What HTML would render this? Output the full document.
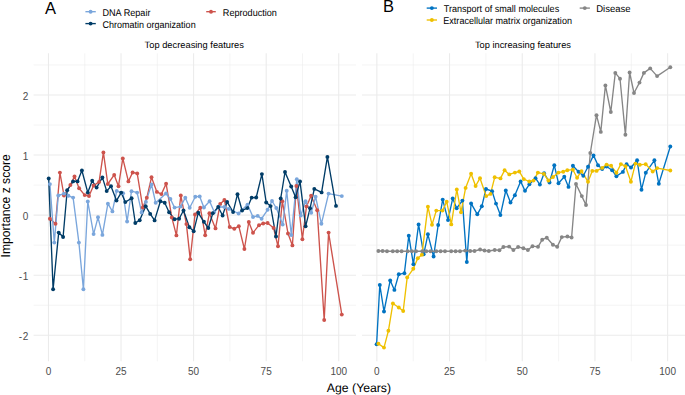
<!DOCTYPE html>
<html><head><meta charset="utf-8"><style>
html,body{margin:0;padding:0;background:#fff;}
body{width:685px;height:395px;overflow:hidden;}
svg{display:block;font-family:"Liberation Sans",sans-serif;}
</style></head><body>
<svg width="685" height="395" viewBox="0 0 685 395">
<line x1="33.6" x2="356.0" y1="305.19" y2="305.19" stroke="#EBEBEB" stroke-width="0.55"/>
<line x1="33.6" x2="356.0" y1="245.13" y2="245.13" stroke="#EBEBEB" stroke-width="0.55"/>
<line x1="33.6" x2="356.0" y1="185.07" y2="185.07" stroke="#EBEBEB" stroke-width="0.55"/>
<line x1="33.6" x2="356.0" y1="125.01" y2="125.01" stroke="#EBEBEB" stroke-width="0.55"/>
<line x1="33.6" x2="356.0" y1="64.95" y2="64.95" stroke="#EBEBEB" stroke-width="0.55"/>
<line x1="84.74" x2="84.74" y1="53.3" y2="361.3" stroke="#EBEBEB" stroke-width="0.55"/>
<line x1="157.31" x2="157.31" y1="53.3" y2="361.3" stroke="#EBEBEB" stroke-width="0.55"/>
<line x1="229.89" x2="229.89" y1="53.3" y2="361.3" stroke="#EBEBEB" stroke-width="0.55"/>
<line x1="302.46" x2="302.46" y1="53.3" y2="361.3" stroke="#EBEBEB" stroke-width="0.55"/>
<line x1="33.6" x2="356.0" y1="335.22" y2="335.22" stroke="#EBEBEB" stroke-width="1.07"/>
<line x1="33.6" x2="356.0" y1="275.16" y2="275.16" stroke="#EBEBEB" stroke-width="1.07"/>
<line x1="33.6" x2="356.0" y1="215.10" y2="215.10" stroke="#EBEBEB" stroke-width="1.07"/>
<line x1="33.6" x2="356.0" y1="155.04" y2="155.04" stroke="#EBEBEB" stroke-width="1.07"/>
<line x1="33.6" x2="356.0" y1="94.98" y2="94.98" stroke="#EBEBEB" stroke-width="1.07"/>
<line x1="48.45" x2="48.45" y1="53.3" y2="361.3" stroke="#EBEBEB" stroke-width="1.07"/>
<line x1="121.03" x2="121.03" y1="53.3" y2="361.3" stroke="#EBEBEB" stroke-width="1.07"/>
<line x1="193.60" x2="193.60" y1="53.3" y2="361.3" stroke="#EBEBEB" stroke-width="1.07"/>
<line x1="266.18" x2="266.18" y1="53.3" y2="361.3" stroke="#EBEBEB" stroke-width="1.07"/>
<line x1="338.75" x2="338.75" y1="53.3" y2="361.3" stroke="#EBEBEB" stroke-width="1.07"/>
<line x1="362.0" x2="685.0" y1="305.19" y2="305.19" stroke="#EBEBEB" stroke-width="0.55"/>
<line x1="362.0" x2="685.0" y1="245.13" y2="245.13" stroke="#EBEBEB" stroke-width="0.55"/>
<line x1="362.0" x2="685.0" y1="185.07" y2="185.07" stroke="#EBEBEB" stroke-width="0.55"/>
<line x1="362.0" x2="685.0" y1="125.01" y2="125.01" stroke="#EBEBEB" stroke-width="0.55"/>
<line x1="362.0" x2="685.0" y1="64.95" y2="64.95" stroke="#EBEBEB" stroke-width="0.55"/>
<line x1="413.20" x2="413.20" y1="53.3" y2="361.3" stroke="#EBEBEB" stroke-width="0.55"/>
<line x1="485.90" x2="485.90" y1="53.3" y2="361.3" stroke="#EBEBEB" stroke-width="0.55"/>
<line x1="558.60" x2="558.60" y1="53.3" y2="361.3" stroke="#EBEBEB" stroke-width="0.55"/>
<line x1="631.30" x2="631.30" y1="53.3" y2="361.3" stroke="#EBEBEB" stroke-width="0.55"/>
<line x1="362.0" x2="685.0" y1="335.22" y2="335.22" stroke="#EBEBEB" stroke-width="1.07"/>
<line x1="362.0" x2="685.0" y1="275.16" y2="275.16" stroke="#EBEBEB" stroke-width="1.07"/>
<line x1="362.0" x2="685.0" y1="215.10" y2="215.10" stroke="#EBEBEB" stroke-width="1.07"/>
<line x1="362.0" x2="685.0" y1="155.04" y2="155.04" stroke="#EBEBEB" stroke-width="1.07"/>
<line x1="362.0" x2="685.0" y1="94.98" y2="94.98" stroke="#EBEBEB" stroke-width="1.07"/>
<line x1="376.85" x2="376.85" y1="53.3" y2="361.3" stroke="#EBEBEB" stroke-width="1.07"/>
<line x1="449.55" x2="449.55" y1="53.3" y2="361.3" stroke="#EBEBEB" stroke-width="1.07"/>
<line x1="522.25" x2="522.25" y1="53.3" y2="361.3" stroke="#EBEBEB" stroke-width="1.07"/>
<line x1="594.95" x2="594.95" y1="53.3" y2="361.3" stroke="#EBEBEB" stroke-width="1.07"/>
<line x1="667.65" x2="667.65" y1="53.3" y2="361.3" stroke="#EBEBEB" stroke-width="1.07"/>
<path d="M49.9,218.8 L55.5,223.8 L59.9,172.6 L64.0,195.5 L70.4,185.0 L74.5,176.4 L79.1,188.3 L84.7,195.1 L89.0,196.0 L93.6,185.5 L99.1,181.9 L103.4,152.4 L107.8,184.0 L114.2,174.9 L118.5,186.2 L122.8,158.4 L128.4,181.4 L132.6,172.5 L137.2,173.4 L142.8,207.5 L146.8,197.8 L151.5,177.3 L156.9,191.9 L161.4,194.1 L166.1,183.7 L171.8,217.4 L176.4,235.4 L180.8,195.5 L186.4,224.1 L190.2,259.2 L195.0,214.5 L200.3,207.7 L205.2,235.2 L209.4,213.3 L215.5,228.4 L220.2,204.0 L224.4,200.0 L229.7,227.0 L234.3,228.8 L238.8,226.2 L244.4,249.0 L248.8,222.0 L253.0,232.8 L259.0,225.2 L263.2,223.5 L267.6,223.0 L273.6,228.0 L278.0,246.3 L282.3,201.2 L288.0,233.5 L292.4,245.4 L296.4,186.0 L302.4,239.2 L306.5,206.4 L311.1,195.8 L317.2,210.2 L324.2,320.0 L328.6,232.6 L341.8,314.6" fill="none" stroke="#CD534C" stroke-width="1.35" stroke-linejoin="round"/>
<path d="M49.9,184.1 L54.3,242.6 L58.3,195.5 L64.0,193.6 L68.4,195.8 L73.1,197.6 L78.9,242.6 L83.4,289.3 L87.8,201.5 L93.6,234.1 L98.0,217.3 L102.4,234.9 L107.9,203.7 L112.4,211.4 L116.7,190.9 L123.1,193.3 L127.1,221.5 L131.5,191.2 L137.1,192.6 L141.6,212.4 L145.9,201.9 L151.5,184.5 L155.7,202.8 L166.0,193.5 L170.4,199.0 L174.6,207.6 L180.6,206.6 L185.3,197.7 L189.7,207.7 L195.3,196.7 L199.7,196.4 L203.9,207.5 L209.6,201.3 L214.3,212.1 L219.0,206.8 L224.4,207.0 L228.8,208.9 L238.6,213.5 L247.5,204.6 L253.0,217.0 L257.7,215.9 L261.6,218.7 L267.6,209.8 L272.0,201.0 L276.3,208.0 L282.7,224.6 L286.7,190.8 L291.3,235.0 L296.8,179.3 L300.8,215.6 L305.5,201.3 L311.2,212.7 L315.6,196.7 L321.4,223.8 L328.6,193.6 L341.8,196.1" fill="none" stroke="#7AA6DC" stroke-width="1.35" stroke-linejoin="round"/>
<path d="M48.7,178.5 L53.1,289.3 L58.7,232.6 L63.1,237.0 L67.2,190.3 L73.1,181.4 L77.5,181.4 L81.9,170.5 L87.8,192.6 L92.2,180.8 L96.6,187.6 L102.4,177.4 L106.7,191.1 L111.0,186.2 L116.5,200.6 L121.2,192.6 L125.3,202.1 L131.6,198.2 L135.3,223.0 L139.7,220.2 L145.7,206.2 L150.2,213.9 L154.6,220.4 L160.4,201.3 L164.7,202.7 L169.1,212.3 L174.6,219.2 L179.1,218.7 L183.5,210.5 L189.4,227.3 L193.7,231.2 L198.3,212.8 L203.9,221.8 L208.3,228.0 L212.8,213.3 L218.2,207.0 L222.6,215.5 L227.1,201.9 L233.1,212.1 L237.5,194.2 L242.1,210.5 L247.3,208.1 L251.7,197.6 L256.2,197.5 L261.9,174.1 L266.2,202.5 L270.6,206.1 L276.0,236.5 L280.7,198.5 L285.0,172.0 L291.2,186.5 L295.6,197.2 L300.0,181.4 L305.6,226.3 L310.1,208.2 L314.3,188.9 L321.6,192.4 L327.4,156.9 L336.0,205.9" fill="none" stroke="#003C67" stroke-width="1.35" stroke-linejoin="round"/>
<g fill="#CD534C"><circle cx="49.9" cy="218.8" r="1.95"/><circle cx="55.5" cy="223.8" r="1.95"/><circle cx="59.9" cy="172.6" r="1.95"/><circle cx="64.0" cy="195.5" r="1.95"/><circle cx="70.4" cy="185.0" r="1.95"/><circle cx="74.5" cy="176.4" r="1.95"/><circle cx="79.1" cy="188.3" r="1.95"/><circle cx="84.7" cy="195.1" r="1.95"/><circle cx="89.0" cy="196.0" r="1.95"/><circle cx="93.6" cy="185.5" r="1.95"/><circle cx="99.1" cy="181.9" r="1.95"/><circle cx="103.4" cy="152.4" r="1.95"/><circle cx="107.8" cy="184.0" r="1.95"/><circle cx="114.2" cy="174.9" r="1.95"/><circle cx="118.5" cy="186.2" r="1.95"/><circle cx="122.8" cy="158.4" r="1.95"/><circle cx="128.4" cy="181.4" r="1.95"/><circle cx="132.6" cy="172.5" r="1.95"/><circle cx="137.2" cy="173.4" r="1.95"/><circle cx="142.8" cy="207.5" r="1.95"/><circle cx="146.8" cy="197.8" r="1.95"/><circle cx="151.5" cy="177.3" r="1.95"/><circle cx="156.9" cy="191.9" r="1.95"/><circle cx="161.4" cy="194.1" r="1.95"/><circle cx="166.1" cy="183.7" r="1.95"/><circle cx="171.8" cy="217.4" r="1.95"/><circle cx="176.4" cy="235.4" r="1.95"/><circle cx="180.8" cy="195.5" r="1.95"/><circle cx="186.4" cy="224.1" r="1.95"/><circle cx="190.2" cy="259.2" r="1.95"/><circle cx="195.0" cy="214.5" r="1.95"/><circle cx="200.3" cy="207.7" r="1.95"/><circle cx="205.2" cy="235.2" r="1.95"/><circle cx="209.4" cy="213.3" r="1.95"/><circle cx="215.5" cy="228.4" r="1.95"/><circle cx="220.2" cy="204.0" r="1.95"/><circle cx="224.4" cy="200.0" r="1.95"/><circle cx="229.7" cy="227.0" r="1.95"/><circle cx="234.3" cy="228.8" r="1.95"/><circle cx="238.8" cy="226.2" r="1.95"/><circle cx="244.4" cy="249.0" r="1.95"/><circle cx="248.8" cy="222.0" r="1.95"/><circle cx="253.0" cy="232.8" r="1.95"/><circle cx="259.0" cy="225.2" r="1.95"/><circle cx="263.2" cy="223.5" r="1.95"/><circle cx="267.6" cy="223.0" r="1.95"/><circle cx="273.6" cy="228.0" r="1.95"/><circle cx="278.0" cy="246.3" r="1.95"/><circle cx="282.3" cy="201.2" r="1.95"/><circle cx="288.0" cy="233.5" r="1.95"/><circle cx="292.4" cy="245.4" r="1.95"/><circle cx="296.4" cy="186.0" r="1.95"/><circle cx="302.4" cy="239.2" r="1.95"/><circle cx="306.5" cy="206.4" r="1.95"/><circle cx="311.1" cy="195.8" r="1.95"/><circle cx="317.2" cy="210.2" r="1.95"/><circle cx="324.2" cy="320.0" r="1.95"/><circle cx="328.6" cy="232.6" r="1.95"/><circle cx="341.8" cy="314.6" r="1.95"/></g>
<g fill="#7AA6DC"><circle cx="49.9" cy="184.1" r="1.95"/><circle cx="54.3" cy="242.6" r="1.95"/><circle cx="58.3" cy="195.5" r="1.95"/><circle cx="64.0" cy="193.6" r="1.95"/><circle cx="68.4" cy="195.8" r="1.95"/><circle cx="73.1" cy="197.6" r="1.95"/><circle cx="78.9" cy="242.6" r="1.95"/><circle cx="83.4" cy="289.3" r="1.95"/><circle cx="87.8" cy="201.5" r="1.95"/><circle cx="93.6" cy="234.1" r="1.95"/><circle cx="98.0" cy="217.3" r="1.95"/><circle cx="102.4" cy="234.9" r="1.95"/><circle cx="107.9" cy="203.7" r="1.95"/><circle cx="112.4" cy="211.4" r="1.95"/><circle cx="116.7" cy="190.9" r="1.95"/><circle cx="123.1" cy="193.3" r="1.95"/><circle cx="127.1" cy="221.5" r="1.95"/><circle cx="131.5" cy="191.2" r="1.95"/><circle cx="137.1" cy="192.6" r="1.95"/><circle cx="141.6" cy="212.4" r="1.95"/><circle cx="145.9" cy="201.9" r="1.95"/><circle cx="151.5" cy="184.5" r="1.95"/><circle cx="155.7" cy="202.8" r="1.95"/><circle cx="166.0" cy="193.5" r="1.95"/><circle cx="170.4" cy="199.0" r="1.95"/><circle cx="174.6" cy="207.6" r="1.95"/><circle cx="180.6" cy="206.6" r="1.95"/><circle cx="185.3" cy="197.7" r="1.95"/><circle cx="189.7" cy="207.7" r="1.95"/><circle cx="195.3" cy="196.7" r="1.95"/><circle cx="199.7" cy="196.4" r="1.95"/><circle cx="203.9" cy="207.5" r="1.95"/><circle cx="209.6" cy="201.3" r="1.95"/><circle cx="214.3" cy="212.1" r="1.95"/><circle cx="219.0" cy="206.8" r="1.95"/><circle cx="224.4" cy="207.0" r="1.95"/><circle cx="228.8" cy="208.9" r="1.95"/><circle cx="238.6" cy="213.5" r="1.95"/><circle cx="247.5" cy="204.6" r="1.95"/><circle cx="253.0" cy="217.0" r="1.95"/><circle cx="257.7" cy="215.9" r="1.95"/><circle cx="261.6" cy="218.7" r="1.95"/><circle cx="267.6" cy="209.8" r="1.95"/><circle cx="272.0" cy="201.0" r="1.95"/><circle cx="276.3" cy="208.0" r="1.95"/><circle cx="282.7" cy="224.6" r="1.95"/><circle cx="286.7" cy="190.8" r="1.95"/><circle cx="291.3" cy="235.0" r="1.95"/><circle cx="296.8" cy="179.3" r="1.95"/><circle cx="300.8" cy="215.6" r="1.95"/><circle cx="305.5" cy="201.3" r="1.95"/><circle cx="311.2" cy="212.7" r="1.95"/><circle cx="315.6" cy="196.7" r="1.95"/><circle cx="321.4" cy="223.8" r="1.95"/><circle cx="328.6" cy="193.6" r="1.95"/><circle cx="341.8" cy="196.1" r="1.95"/></g>
<g fill="#003C67"><circle cx="48.7" cy="178.5" r="1.95"/><circle cx="53.1" cy="289.3" r="1.95"/><circle cx="58.7" cy="232.6" r="1.95"/><circle cx="63.1" cy="237.0" r="1.95"/><circle cx="67.2" cy="190.3" r="1.95"/><circle cx="73.1" cy="181.4" r="1.95"/><circle cx="77.5" cy="181.4" r="1.95"/><circle cx="81.9" cy="170.5" r="1.95"/><circle cx="87.8" cy="192.6" r="1.95"/><circle cx="92.2" cy="180.8" r="1.95"/><circle cx="96.6" cy="187.6" r="1.95"/><circle cx="102.4" cy="177.4" r="1.95"/><circle cx="106.7" cy="191.1" r="1.95"/><circle cx="111.0" cy="186.2" r="1.95"/><circle cx="116.5" cy="200.6" r="1.95"/><circle cx="121.2" cy="192.6" r="1.95"/><circle cx="125.3" cy="202.1" r="1.95"/><circle cx="131.6" cy="198.2" r="1.95"/><circle cx="135.3" cy="223.0" r="1.95"/><circle cx="139.7" cy="220.2" r="1.95"/><circle cx="145.7" cy="206.2" r="1.95"/><circle cx="150.2" cy="213.9" r="1.95"/><circle cx="154.6" cy="220.4" r="1.95"/><circle cx="160.4" cy="201.3" r="1.95"/><circle cx="164.7" cy="202.7" r="1.95"/><circle cx="169.1" cy="212.3" r="1.95"/><circle cx="174.6" cy="219.2" r="1.95"/><circle cx="179.1" cy="218.7" r="1.95"/><circle cx="183.5" cy="210.5" r="1.95"/><circle cx="189.4" cy="227.3" r="1.95"/><circle cx="193.7" cy="231.2" r="1.95"/><circle cx="198.3" cy="212.8" r="1.95"/><circle cx="203.9" cy="221.8" r="1.95"/><circle cx="208.3" cy="228.0" r="1.95"/><circle cx="212.8" cy="213.3" r="1.95"/><circle cx="218.2" cy="207.0" r="1.95"/><circle cx="222.6" cy="215.5" r="1.95"/><circle cx="227.1" cy="201.9" r="1.95"/><circle cx="233.1" cy="212.1" r="1.95"/><circle cx="237.5" cy="194.2" r="1.95"/><circle cx="242.1" cy="210.5" r="1.95"/><circle cx="247.3" cy="208.1" r="1.95"/><circle cx="251.7" cy="197.6" r="1.95"/><circle cx="256.2" cy="197.5" r="1.95"/><circle cx="261.9" cy="174.1" r="1.95"/><circle cx="266.2" cy="202.5" r="1.95"/><circle cx="270.6" cy="206.1" r="1.95"/><circle cx="276.0" cy="236.5" r="1.95"/><circle cx="280.7" cy="198.5" r="1.95"/><circle cx="285.0" cy="172.0" r="1.95"/><circle cx="291.2" cy="186.5" r="1.95"/><circle cx="295.6" cy="197.2" r="1.95"/><circle cx="300.0" cy="181.4" r="1.95"/><circle cx="305.6" cy="226.3" r="1.95"/><circle cx="310.1" cy="208.2" r="1.95"/><circle cx="314.3" cy="188.9" r="1.95"/><circle cx="321.6" cy="192.4" r="1.95"/><circle cx="327.4" cy="156.9" r="1.95"/><circle cx="336.0" cy="205.9" r="1.95"/></g>
<path d="M376.6,344.3 L379.8,284.9 L384.0,311.5 L390.2,280.4 L394.4,289.9 L398.8,274.3 L404.4,273.2 L408.8,235.7 L413.4,264.3 L418.6,224.4 L423.7,254.3 L427.9,234.3 L433.6,256.5 L438.2,225.0 L442.7,199.6 L448.0,220.1 L452.7,198.4 L456.7,208.2 L462.4,200.6 L466.8,262.0 L471.1,203.4 L477.3,214.3 L481.8,206.3 L486.0,189.0 L492.1,191.2 L496.0,203.6 L500.4,215.1 L505.8,190.5 L510.5,202.5 L514.9,195.2 L520.6,181.4 L525.0,190.8 L529.4,184.3 L535.5,178.2 L539.9,184.6 L544.1,173.2 L549.5,182.5 L554.3,165.2 L558.5,183.2 L564.3,176.8 L568.5,186.9 L572.9,165.8 L578.5,171.7 L583.3,175.7 L588.0,166.7 L593.5,155.4 L598.0,165.2 L602.2,169.1 L606.6,166.5 L612.1,170.2 L616.4,176.3 L622.9,171.9 L626.6,164.2 L631.0,167.5 L637.1,160.2 L641.5,189.7 L645.8,172.7 L654.4,160.3 L658.8,183.8 L670.3,146.5" fill="none" stroke="#0073C2" stroke-width="1.35" stroke-linejoin="round"/>
<path d="M378.4,343.8 L384.0,347.6 L388.4,330.8 L392.9,303.5 L398.8,307.5 L403.2,311.0 L407.2,277.4 L413.3,268.8 L417.8,258.2 L421.9,254.7 L427.9,206.7 L432.0,224.7 L436.3,210.6 L442.5,210.6 L446.7,201.7 L451.3,224.4 L456.8,189.5 L461.0,212.3 L465.6,187.9 L471.1,173.8 L475.6,186.0 L480.0,178.2 L486.2,196.1 L490.5,193.9 L494.7,177.3 L500.5,178.4 L504.6,170.2 L509.3,174.4 L514.9,172.6 L519.3,171.5 L523.8,179.1 L529.3,181.5 L533.5,180.6 L537.9,172.6 L543.9,173.9 L548.4,180.5 L553.0,177.0 L558.5,172.6 L563.2,171.7 L567.3,170.2 L572.9,169.7 L577.1,177.7 L581.5,171.1 L588.0,181.7 L592.3,170.9 L596.6,170.9 L602.2,167.9 L606.6,164.6 L611.1,165.8 L616.4,172.7 L620.9,164.1 L625.5,166.2 L630.9,181.7 L635.4,163.6 L639.8,164.8 L645.7,164.2 L652.7,171.5 L657.2,168.1 L670.3,170.5" fill="none" stroke="#EFC000" stroke-width="1.35" stroke-linejoin="round"/>
<path d="M378.4,251.0 L382.6,251.0 L387.0,251.2 L392.8,251.2 L397.2,251.2 L401.6,251.2 L407.6,251.2 L411.9,251.2 L416.1,251.2 L422.3,251.2 L426.3,251.2 L430.5,251.2 L436.3,251.2 L440.6,251.2 L445.0,251.2 L451.2,251.2 L455.6,251.2 L460.0,251.2 L465.2,250.6 L470.2,251.0 L474.5,251.0 L480.1,249.5 L484.5,250.5 L488.8,251.0 L494.7,250.0 L499.4,250.2 L503.4,247.0 L509.1,246.6 L513.4,250.0 L518.1,247.0 L523.4,248.2 L527.9,250.0 L532.5,246.2 L538.0,246.8 L542.2,239.7 L546.8,237.7 L552.9,244.7 L557.2,246.8 L561.8,237.1 L567.4,236.5 L571.6,237.5 L576.0,184.0 L581.8,196.1 L586.0,205.0 L590.3,153.0 L596.5,115.2 L600.8,131.9 L605.4,85.4 L610.8,112.0 L615.3,72.9 L620.0,78.7 L625.4,134.7 L629.6,72.5 L634.0,93.0 L639.5,82.6 L643.9,72.9 L650.2,68.4 L657.1,76.1 L670.3,67.3" fill="none" stroke="#868686" stroke-width="1.35" stroke-linejoin="round"/>
<g fill="#0073C2"><circle cx="376.6" cy="344.3" r="1.95"/><circle cx="379.8" cy="284.9" r="1.95"/><circle cx="384.0" cy="311.5" r="1.95"/><circle cx="390.2" cy="280.4" r="1.95"/><circle cx="394.4" cy="289.9" r="1.95"/><circle cx="398.8" cy="274.3" r="1.95"/><circle cx="404.4" cy="273.2" r="1.95"/><circle cx="408.8" cy="235.7" r="1.95"/><circle cx="413.4" cy="264.3" r="1.95"/><circle cx="418.6" cy="224.4" r="1.95"/><circle cx="423.7" cy="254.3" r="1.95"/><circle cx="427.9" cy="234.3" r="1.95"/><circle cx="433.6" cy="256.5" r="1.95"/><circle cx="438.2" cy="225.0" r="1.95"/><circle cx="442.7" cy="199.6" r="1.95"/><circle cx="448.0" cy="220.1" r="1.95"/><circle cx="452.7" cy="198.4" r="1.95"/><circle cx="456.7" cy="208.2" r="1.95"/><circle cx="462.4" cy="200.6" r="1.95"/><circle cx="466.8" cy="262.0" r="1.95"/><circle cx="471.1" cy="203.4" r="1.95"/><circle cx="477.3" cy="214.3" r="1.95"/><circle cx="481.8" cy="206.3" r="1.95"/><circle cx="486.0" cy="189.0" r="1.95"/><circle cx="492.1" cy="191.2" r="1.95"/><circle cx="496.0" cy="203.6" r="1.95"/><circle cx="500.4" cy="215.1" r="1.95"/><circle cx="505.8" cy="190.5" r="1.95"/><circle cx="510.5" cy="202.5" r="1.95"/><circle cx="514.9" cy="195.2" r="1.95"/><circle cx="520.6" cy="181.4" r="1.95"/><circle cx="525.0" cy="190.8" r="1.95"/><circle cx="529.4" cy="184.3" r="1.95"/><circle cx="535.5" cy="178.2" r="1.95"/><circle cx="539.9" cy="184.6" r="1.95"/><circle cx="544.1" cy="173.2" r="1.95"/><circle cx="549.5" cy="182.5" r="1.95"/><circle cx="554.3" cy="165.2" r="1.95"/><circle cx="558.5" cy="183.2" r="1.95"/><circle cx="564.3" cy="176.8" r="1.95"/><circle cx="568.5" cy="186.9" r="1.95"/><circle cx="572.9" cy="165.8" r="1.95"/><circle cx="578.5" cy="171.7" r="1.95"/><circle cx="583.3" cy="175.7" r="1.95"/><circle cx="588.0" cy="166.7" r="1.95"/><circle cx="593.5" cy="155.4" r="1.95"/><circle cx="598.0" cy="165.2" r="1.95"/><circle cx="602.2" cy="169.1" r="1.95"/><circle cx="606.6" cy="166.5" r="1.95"/><circle cx="612.1" cy="170.2" r="1.95"/><circle cx="616.4" cy="176.3" r="1.95"/><circle cx="622.9" cy="171.9" r="1.95"/><circle cx="626.6" cy="164.2" r="1.95"/><circle cx="631.0" cy="167.5" r="1.95"/><circle cx="637.1" cy="160.2" r="1.95"/><circle cx="641.5" cy="189.7" r="1.95"/><circle cx="645.8" cy="172.7" r="1.95"/><circle cx="654.4" cy="160.3" r="1.95"/><circle cx="658.8" cy="183.8" r="1.95"/><circle cx="670.3" cy="146.5" r="1.95"/></g>
<g fill="#EFC000"><circle cx="378.4" cy="343.8" r="1.95"/><circle cx="384.0" cy="347.6" r="1.95"/><circle cx="388.4" cy="330.8" r="1.95"/><circle cx="392.9" cy="303.5" r="1.95"/><circle cx="398.8" cy="307.5" r="1.95"/><circle cx="403.2" cy="311.0" r="1.95"/><circle cx="407.2" cy="277.4" r="1.95"/><circle cx="413.3" cy="268.8" r="1.95"/><circle cx="417.8" cy="258.2" r="1.95"/><circle cx="421.9" cy="254.7" r="1.95"/><circle cx="427.9" cy="206.7" r="1.95"/><circle cx="432.0" cy="224.7" r="1.95"/><circle cx="436.3" cy="210.6" r="1.95"/><circle cx="442.5" cy="210.6" r="1.95"/><circle cx="446.7" cy="201.7" r="1.95"/><circle cx="451.3" cy="224.4" r="1.95"/><circle cx="456.8" cy="189.5" r="1.95"/><circle cx="461.0" cy="212.3" r="1.95"/><circle cx="465.6" cy="187.9" r="1.95"/><circle cx="471.1" cy="173.8" r="1.95"/><circle cx="475.6" cy="186.0" r="1.95"/><circle cx="480.0" cy="178.2" r="1.95"/><circle cx="486.2" cy="196.1" r="1.95"/><circle cx="490.5" cy="193.9" r="1.95"/><circle cx="494.7" cy="177.3" r="1.95"/><circle cx="500.5" cy="178.4" r="1.95"/><circle cx="504.6" cy="170.2" r="1.95"/><circle cx="509.3" cy="174.4" r="1.95"/><circle cx="514.9" cy="172.6" r="1.95"/><circle cx="519.3" cy="171.5" r="1.95"/><circle cx="523.8" cy="179.1" r="1.95"/><circle cx="529.3" cy="181.5" r="1.95"/><circle cx="533.5" cy="180.6" r="1.95"/><circle cx="537.9" cy="172.6" r="1.95"/><circle cx="543.9" cy="173.9" r="1.95"/><circle cx="548.4" cy="180.5" r="1.95"/><circle cx="553.0" cy="177.0" r="1.95"/><circle cx="558.5" cy="172.6" r="1.95"/><circle cx="563.2" cy="171.7" r="1.95"/><circle cx="567.3" cy="170.2" r="1.95"/><circle cx="572.9" cy="169.7" r="1.95"/><circle cx="577.1" cy="177.7" r="1.95"/><circle cx="581.5" cy="171.1" r="1.95"/><circle cx="588.0" cy="181.7" r="1.95"/><circle cx="592.3" cy="170.9" r="1.95"/><circle cx="596.6" cy="170.9" r="1.95"/><circle cx="602.2" cy="167.9" r="1.95"/><circle cx="606.6" cy="164.6" r="1.95"/><circle cx="611.1" cy="165.8" r="1.95"/><circle cx="616.4" cy="172.7" r="1.95"/><circle cx="620.9" cy="164.1" r="1.95"/><circle cx="625.5" cy="166.2" r="1.95"/><circle cx="630.9" cy="181.7" r="1.95"/><circle cx="635.4" cy="163.6" r="1.95"/><circle cx="639.8" cy="164.8" r="1.95"/><circle cx="645.7" cy="164.2" r="1.95"/><circle cx="652.7" cy="171.5" r="1.95"/><circle cx="657.2" cy="168.1" r="1.95"/><circle cx="670.3" cy="170.5" r="1.95"/></g>
<g fill="#868686"><circle cx="378.4" cy="251.0" r="1.95"/><circle cx="382.6" cy="251.0" r="1.95"/><circle cx="387.0" cy="251.2" r="1.95"/><circle cx="392.8" cy="251.2" r="1.95"/><circle cx="397.2" cy="251.2" r="1.95"/><circle cx="401.6" cy="251.2" r="1.95"/><circle cx="407.6" cy="251.2" r="1.95"/><circle cx="411.9" cy="251.2" r="1.95"/><circle cx="416.1" cy="251.2" r="1.95"/><circle cx="422.3" cy="251.2" r="1.95"/><circle cx="426.3" cy="251.2" r="1.95"/><circle cx="430.5" cy="251.2" r="1.95"/><circle cx="436.3" cy="251.2" r="1.95"/><circle cx="440.6" cy="251.2" r="1.95"/><circle cx="445.0" cy="251.2" r="1.95"/><circle cx="451.2" cy="251.2" r="1.95"/><circle cx="455.6" cy="251.2" r="1.95"/><circle cx="460.0" cy="251.2" r="1.95"/><circle cx="465.2" cy="250.6" r="1.95"/><circle cx="470.2" cy="251.0" r="1.95"/><circle cx="474.5" cy="251.0" r="1.95"/><circle cx="480.1" cy="249.5" r="1.95"/><circle cx="484.5" cy="250.5" r="1.95"/><circle cx="488.8" cy="251.0" r="1.95"/><circle cx="494.7" cy="250.0" r="1.95"/><circle cx="499.4" cy="250.2" r="1.95"/><circle cx="503.4" cy="247.0" r="1.95"/><circle cx="509.1" cy="246.6" r="1.95"/><circle cx="513.4" cy="250.0" r="1.95"/><circle cx="518.1" cy="247.0" r="1.95"/><circle cx="523.4" cy="248.2" r="1.95"/><circle cx="527.9" cy="250.0" r="1.95"/><circle cx="532.5" cy="246.2" r="1.95"/><circle cx="538.0" cy="246.8" r="1.95"/><circle cx="542.2" cy="239.7" r="1.95"/><circle cx="546.8" cy="237.7" r="1.95"/><circle cx="552.9" cy="244.7" r="1.95"/><circle cx="557.2" cy="246.8" r="1.95"/><circle cx="561.8" cy="237.1" r="1.95"/><circle cx="567.4" cy="236.5" r="1.95"/><circle cx="571.6" cy="237.5" r="1.95"/><circle cx="576.0" cy="184.0" r="1.95"/><circle cx="581.8" cy="196.1" r="1.95"/><circle cx="586.0" cy="205.0" r="1.95"/><circle cx="590.3" cy="153.0" r="1.95"/><circle cx="596.5" cy="115.2" r="1.95"/><circle cx="600.8" cy="131.9" r="1.95"/><circle cx="605.4" cy="85.4" r="1.95"/><circle cx="610.8" cy="112.0" r="1.95"/><circle cx="615.3" cy="72.9" r="1.95"/><circle cx="620.0" cy="78.7" r="1.95"/><circle cx="625.4" cy="134.7" r="1.95"/><circle cx="629.6" cy="72.5" r="1.95"/><circle cx="634.0" cy="93.0" r="1.95"/><circle cx="639.5" cy="82.6" r="1.95"/><circle cx="643.9" cy="72.9" r="1.95"/><circle cx="650.2" cy="68.4" r="1.95"/><circle cx="657.1" cy="76.1" r="1.95"/><circle cx="670.3" cy="67.3" r="1.95"/></g>
<text x="28.4" y="100.08" text-anchor="end" font-size="10" fill="#4D4D4D">2</text>
<text x="28.4" y="160.14" text-anchor="end" font-size="10" fill="#4D4D4D">1</text>
<text x="28.4" y="220.20" text-anchor="end" font-size="10" fill="#4D4D4D">0</text>
<text x="28.4" y="280.26" text-anchor="end" font-size="10" fill="#4D4D4D">-<tspan dx="0.8">1</tspan></text>
<text x="28.4" y="340.32" text-anchor="end" font-size="10" fill="#4D4D4D">-<tspan dx="0.8">2</tspan></text>
<text x="48.45" y="375.3" text-anchor="middle" font-size="10" fill="#4D4D4D">0</text>
<text x="376.85" y="375.3" text-anchor="middle" font-size="10" fill="#4D4D4D">0</text>
<text x="121.03" y="375.3" text-anchor="middle" font-size="10" fill="#4D4D4D">25</text>
<text x="449.55" y="375.3" text-anchor="middle" font-size="10" fill="#4D4D4D">25</text>
<text x="193.60" y="375.3" text-anchor="middle" font-size="10" fill="#4D4D4D">50</text>
<text x="522.25" y="375.3" text-anchor="middle" font-size="10" fill="#4D4D4D">50</text>
<text x="266.18" y="375.3" text-anchor="middle" font-size="10" fill="#4D4D4D">75</text>
<text x="594.95" y="375.3" text-anchor="middle" font-size="10" fill="#4D4D4D">75</text>
<text x="338.75" y="375.3" text-anchor="middle" font-size="10" fill="#4D4D4D">100</text>
<text x="667.65" y="375.3" text-anchor="middle" font-size="10" fill="#4D4D4D">100</text>
<text x="326.88" y="391.8" font-size="12.2" fill="#000" textLength="64.19" lengthAdjust="spacingAndGlyphs" style="text-rendering:geometricPrecision">Age (Years)</text>
<text transform="translate(9.9,205.8) rotate(-90)" text-anchor="middle" font-size="12.15" fill="#000">Importance z score</text>
<text x="144.557" y="48.0" font-size="9.25" fill="#000" textLength="99.412" lengthAdjust="spacingAndGlyphs" style="text-rendering:geometricPrecision">Top decreasing features</text>
<text x="474.902" y="48.0" font-size="9.25" fill="#000" textLength="96.118" lengthAdjust="spacingAndGlyphs" style="text-rendering:geometricPrecision">Top increasing features</text>
<text x="45.0" y="13.8" font-size="16.5" fill="#000">A</text>
<text x="382.9" y="11.9" font-size="16.5" fill="#000">B</text>
<line x1="85.4" x2="95.8" y1="11.7" y2="11.7" stroke="#7AA6DC" stroke-width="1.35"/>
<circle cx="90.60" cy="11.7" r="1.95" fill="#7AA6DC"/>
<text x="102.522" y="16.0" font-size="9.8" fill="#000" textLength="47.925" lengthAdjust="spacingAndGlyphs" style="text-rendering:geometricPrecision">DNA Repair</text>
<line x1="85.4" x2="95.8" y1="23.6" y2="23.6" stroke="#003C67" stroke-width="1.35"/>
<circle cx="90.60" cy="23.6" r="1.95" fill="#003C67"/>
<text x="102.469" y="28.0" font-size="9.8" fill="#000" textLength="93.186" lengthAdjust="spacingAndGlyphs" style="text-rendering:geometricPrecision">Chromatin organization</text>
<line x1="206.2" x2="215.8" y1="11.7" y2="11.7" stroke="#CD534C" stroke-width="1.35"/>
<circle cx="211.00" cy="11.7" r="1.95" fill="#CD534C"/>
<text x="222.843" y="16.0" font-size="9.8" fill="#000" textLength="54.061" lengthAdjust="spacingAndGlyphs" style="text-rendering:geometricPrecision">Reproduction</text>
<line x1="426.7" x2="437.0" y1="8.1" y2="8.1" stroke="#0073C2" stroke-width="1.35"/>
<circle cx="431.85" cy="8.1" r="1.95" fill="#0073C2"/>
<text x="443.718" y="12.0" font-size="9.8" fill="#000" textLength="115.475" lengthAdjust="spacingAndGlyphs" style="text-rendering:geometricPrecision">Transport of small molecules</text>
<line x1="426.7" x2="437.0" y1="20.0" y2="20.0" stroke="#EFC000" stroke-width="1.35"/>
<circle cx="431.85" cy="20.0" r="1.95" fill="#EFC000"/>
<text x="443.316" y="24.0" font-size="9.8" fill="#000" textLength="128.618" lengthAdjust="spacingAndGlyphs" style="text-rendering:geometricPrecision">Extracellular matrix organization</text>
<line x1="579.7" x2="589.9" y1="8.1" y2="8.1" stroke="#868686" stroke-width="1.35"/>
<circle cx="584.80" cy="8.1" r="1.95" fill="#868686"/>
<text x="596.147" y="12.0" font-size="9.8" fill="#000" textLength="34.48" lengthAdjust="spacingAndGlyphs" style="text-rendering:geometricPrecision">Disease</text>
</svg>
</body></html>
